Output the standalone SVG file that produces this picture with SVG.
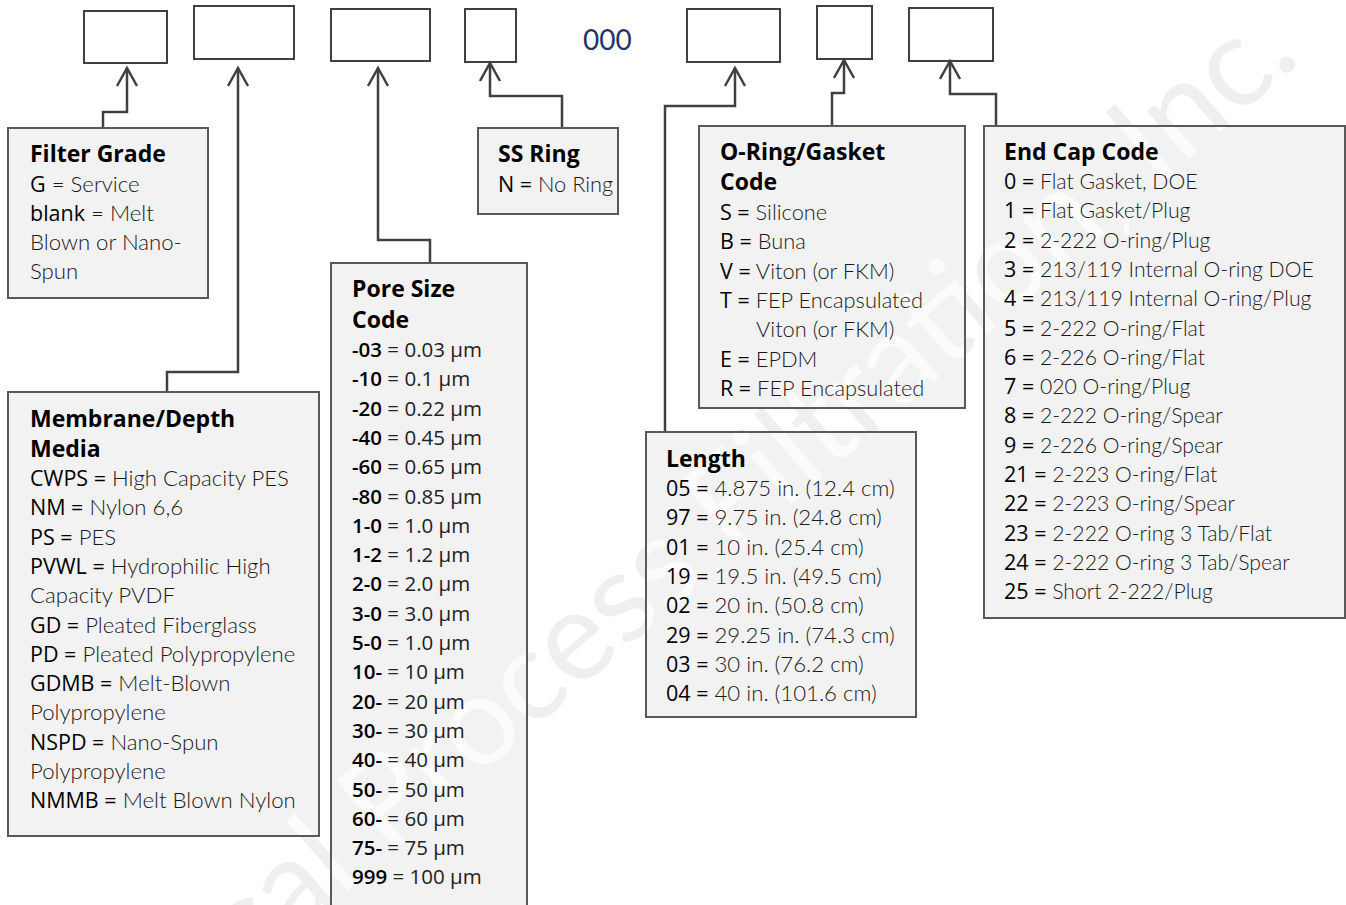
<svg xmlns="http://www.w3.org/2000/svg" width="1346" height="905" viewBox="0 0 1346 905">
<defs>
<style>
.top{fill:#fff;stroke:#404040;stroke-width:2}
.box{fill:url(#boxfill);stroke:#595959;stroke-width:2}
.con{fill:none;stroke:#404040;stroke-width:2.5;marker-start:url(#arr)}
.h{font-family:"Open Sans",sans-serif;font-weight:700;font-size:23px;fill:#000}
.k{font-family:"Open Sans",sans-serif;font-weight:400;font-size:21.5px;fill:#000}
.v{font-family:Lato,sans-serif;font-weight:300;font-size:22.2px;fill:#1a1a1a}
#end-cap .v{font-size:21.2px}
#o-ring .v,#ss-ring .v{font-size:21.8px}
.pk{font-family:"Open Sans",sans-serif;font-weight:600;font-size:20.5px;fill:#000}
.pv{font-family:"Open Sans",sans-serif;font-weight:400;font-size:20.5px;fill:#222}
.wm{font-family:Lato,sans-serif;font-weight:400;font-size:126px}
</style>
<marker id="arr" viewBox="-2 -2 24 24" refX="18" refY="10" markerWidth="24" markerHeight="24" markerUnits="userSpaceOnUse" orient="auto-start-reverse" overflow="visible">
<path d="M0,0 L18,10 L0,20" fill="none" stroke="#404040" stroke-width="2.5"/>
</marker>
<pattern id="boxfill" patternUnits="userSpaceOnUse" x="0" y="0" width="1346" height="905">
<rect width="1346" height="905" fill="#f2f2f2"/>
<text class="wm" fill="#fbfbfb" text-anchor="end" transform="translate(1303,60) rotate(-41)">Critical Process Filtration, Inc.</text>
</pattern>
</defs>
<rect width="1346" height="905" fill="#fff"/>

<g id="watermark">
<text class="wm" fill="#efefef" text-anchor="end" transform="translate(1303,60) rotate(-41)">Critical Process Filtration, Inc.</text>
</g>

<g id="code-slots">
<rect class="top" x="84" y="11" width="83" height="52"/>
<rect class="top" x="194" y="6" width="100" height="53"/>
<rect class="top" x="331" y="9" width="99" height="52"/>
<rect class="top" x="465" y="9" width="51" height="53"/>
<text x="583" y="50" font-family="Lato,sans-serif" font-size="28" fill="#1f3864">000</text>
<rect class="top" x="687" y="9" width="93" height="53"/>
<rect class="top" x="817" y="6" width="55" height="53"/>
<rect class="top" x="909" y="8" width="84" height="53"/>
</g>

<g id="connectors">
<path class="con" d="M127,68 V112 H103 V128"/>
<path class="con" d="M238,68 V372 H167 V392"/>
<path class="con" d="M378,68 V240 H430 V263"/>
<path class="con" d="M490,63 V96 H562 V128"/>
<path class="con" d="M735,68 V106 H665 V432"/>
<path class="con" d="M844,60 V93 H832 V126"/>
<path class="con" d="M950,61 V94 H996 V126"/>
</g>

<g id="filter-grade">
<rect class="box" x="8" y="128" width="200" height="170"/>
<text class="h" x="30" y="162">Filter Grade</text>
<text x="30" y="192"><tspan class="k">G</tspan><tspan class="v"> = Service</tspan></text>
<text x="30" y="221"><tspan class="k">blank</tspan><tspan class="v"> = Melt</tspan></text>
<text class="v" x="30" y="250">Blown or Nano-</text>
<text class="v" x="30" y="279">Spun</text>
</g>

<g id="membrane">
<rect class="box" x="8" y="392" width="311" height="444"/>
<text class="h" x="30" y="427">Membrane/Depth</text>
<text class="h" x="30" y="457">Media</text>
<text x="30" y="486"><tspan class="k">CWPS =</tspan><tspan class="v"> High Capacity PES</tspan></text>
<text x="30" y="515.3"><tspan class="k">NM =</tspan><tspan class="v"> Nylon 6,6</tspan></text>
<text x="30" y="544.6"><tspan class="k">PS =</tspan><tspan class="v"> PES</tspan></text>
<text x="30" y="573.9"><tspan class="k">PVWL =</tspan><tspan class="v"> Hydrophilic High</tspan></text>
<text class="v" x="30" y="603.2">Capacity PVDF</text>
<text x="30" y="632.5"><tspan class="k">GD =</tspan><tspan class="v"> Pleated Fiberglass</tspan></text>
<text x="30" y="661.8"><tspan class="k">PD =</tspan><tspan class="v"> Pleated Polypropylene</tspan></text>
<text x="30" y="691.1"><tspan class="k">GDMB =</tspan><tspan class="v"> Melt-Blown</tspan></text>
<text class="v" x="30" y="720.4">Polypropylene</text>
<text x="30" y="749.7"><tspan class="k">NSPD =</tspan><tspan class="v"> Nano-Spun</tspan></text>
<text class="v" x="30" y="779">Polypropylene</text>
<text x="30" y="808.3"><tspan class="k">NMMB =</tspan><tspan class="v"> Melt Blown Nylon</tspan></text>
</g>

<g id="pore-size">
<rect class="box" x="331" y="263" width="196" height="660"/>
<text class="h" x="352" y="297">Pore Size</text>
<text class="h" x="352" y="328">Code</text>
<text x="352" y="357"><tspan class="pk">-03</tspan><tspan class="pv"> = 0.03 µm</tspan></text>
<text x="352" y="386.3"><tspan class="pk">-10</tspan><tspan class="pv"> = 0.1 µm</tspan></text>
<text x="352" y="415.6"><tspan class="pk">-20</tspan><tspan class="pv"> = 0.22 µm</tspan></text>
<text x="352" y="444.9"><tspan class="pk">-40</tspan><tspan class="pv"> = 0.45 µm</tspan></text>
<text x="352" y="474.2"><tspan class="pk">-60</tspan><tspan class="pv"> = 0.65 µm</tspan></text>
<text x="352" y="503.5"><tspan class="pk">-80</tspan><tspan class="pv"> = 0.85 µm</tspan></text>
<text x="352" y="532.8"><tspan class="pk">1-0</tspan><tspan class="pv"> = 1.0 µm</tspan></text>
<text x="352" y="562.1"><tspan class="pk">1-2</tspan><tspan class="pv"> = 1.2 µm</tspan></text>
<text x="352" y="591.4"><tspan class="pk">2-0</tspan><tspan class="pv"> = 2.0 µm</tspan></text>
<text x="352" y="620.7"><tspan class="pk">3-0</tspan><tspan class="pv"> = 3.0 µm</tspan></text>
<text x="352" y="650"><tspan class="pk">5-0</tspan><tspan class="pv"> = 1.0 µm</tspan></text>
<text x="352" y="679.3"><tspan class="pk">10-</tspan><tspan class="pv"> = 10 µm</tspan></text>
<text x="352" y="708.6"><tspan class="pk">20-</tspan><tspan class="pv"> = 20 µm</tspan></text>
<text x="352" y="737.9"><tspan class="pk">30-</tspan><tspan class="pv"> = 30 µm</tspan></text>
<text x="352" y="767.2"><tspan class="pk">40-</tspan><tspan class="pv"> = 40 µm</tspan></text>
<text x="352" y="796.5"><tspan class="pk">50-</tspan><tspan class="pv"> = 50 µm</tspan></text>
<text x="352" y="825.8"><tspan class="pk">60-</tspan><tspan class="pv"> = 60 µm</tspan></text>
<text x="352" y="855.1"><tspan class="pk">75-</tspan><tspan class="pv"> = 75 µm</tspan></text>
<text x="352" y="884.4"><tspan class="pk">999</tspan><tspan class="pv"> = 100 µm</tspan></text>
</g>

<g id="ss-ring">
<rect class="box" x="478" y="128" width="140" height="86"/>
<text class="h" x="498" y="162">SS Ring</text>
<text x="498" y="192"><tspan class="k">N =</tspan><tspan class="v"> No Ring</tspan></text>
</g>

<g id="o-ring">
<rect class="box" x="699" y="126" width="266" height="282"/>
<text class="h" x="720" y="160">O-Ring/Gasket</text>
<text class="h" x="720" y="190">Code</text>
<text x="720" y="220"><tspan class="k">S =</tspan><tspan class="v"> Silicone</tspan></text>
<text x="720" y="249.3"><tspan class="k">B =</tspan><tspan class="v"> Buna</tspan></text>
<text x="720" y="278.6"><tspan class="k">V =</tspan><tspan class="v"> Viton (or FKM)</tspan></text>
<text x="720" y="307.9"><tspan class="k">T =</tspan><tspan class="v"> FEP Encapsulated</tspan></text>
<text class="v" x="756" y="337.2">Viton (or FKM)</text>
<text x="720" y="366.5"><tspan class="k">E =</tspan><tspan class="v"> EPDM</tspan></text>
<text x="720" y="395.8"><tspan class="k">R =</tspan><tspan class="v"> FEP Encapsulated</tspan></text>
</g>

<g id="length">
<rect class="box" x="646" y="432" width="270" height="285"/>
<text class="h" x="666" y="467">Length</text>
<text x="666" y="496"><tspan class="k">05 =</tspan><tspan class="v"> 4.875 in. (12.4 cm)</tspan></text>
<text x="666" y="525.3"><tspan class="k">97 =</tspan><tspan class="v"> 9.75 in. (24.8 cm)</tspan></text>
<text x="666" y="554.6"><tspan class="k">01 =</tspan><tspan class="v"> 10 in. (25.4 cm)</tspan></text>
<text x="666" y="583.9"><tspan class="k">19 =</tspan><tspan class="v"> 19.5 in. (49.5 cm)</tspan></text>
<text x="666" y="613.2"><tspan class="k">02 =</tspan><tspan class="v"> 20 in. (50.8 cm)</tspan></text>
<text x="666" y="642.5"><tspan class="k">29 =</tspan><tspan class="v"> 29.25 in. (74.3 cm)</tspan></text>
<text x="666" y="671.8"><tspan class="k">03 =</tspan><tspan class="v"> 30 in. (76.2 cm)</tspan></text>
<text x="666" y="701.1"><tspan class="k">04 =</tspan><tspan class="v"> 40 in. (101.6 cm)</tspan></text>
</g>

<g id="end-cap">
<rect class="box" x="984" y="126" width="361" height="492"/>
<text class="h" x="1004" y="160">End Cap Code</text>
<text x="1004" y="189"><tspan class="k">0 =</tspan><tspan class="v"> Flat Gasket, DOE</tspan></text>
<text x="1004" y="218.3"><tspan class="k">1 =</tspan><tspan class="v"> Flat Gasket/Plug</tspan></text>
<text x="1004" y="247.6"><tspan class="k">2 =</tspan><tspan class="v"> 2-222 O-ring/Plug</tspan></text>
<text x="1004" y="276.9"><tspan class="k">3 =</tspan><tspan class="v"> 213/119 Internal O-ring DOE</tspan></text>
<text x="1004" y="306.2"><tspan class="k">4 =</tspan><tspan class="v"> 213/119 Internal O-ring/Plug</tspan></text>
<text x="1004" y="335.5"><tspan class="k">5 =</tspan><tspan class="v"> 2-222 O-ring/Flat</tspan></text>
<text x="1004" y="364.8"><tspan class="k">6 =</tspan><tspan class="v"> 2-226 O-ring/Flat</tspan></text>
<text x="1004" y="394.1"><tspan class="k">7 =</tspan><tspan class="v"> 020 O-ring/Plug</tspan></text>
<text x="1004" y="423.4"><tspan class="k">8 =</tspan><tspan class="v"> 2-222 O-ring/Spear</tspan></text>
<text x="1004" y="452.7"><tspan class="k">9 =</tspan><tspan class="v"> 2-226 O-ring/Spear</tspan></text>
<text x="1004" y="482"><tspan class="k">21 =</tspan><tspan class="v"> 2-223 O-ring/Flat</tspan></text>
<text x="1004" y="511.3"><tspan class="k">22 =</tspan><tspan class="v"> 2-223 O-ring/Spear</tspan></text>
<text x="1004" y="540.6"><tspan class="k">23 =</tspan><tspan class="v"> 2-222 O-ring 3 Tab/Flat</tspan></text>
<text x="1004" y="569.9"><tspan class="k">24 =</tspan><tspan class="v"> 2-222 O-ring 3 Tab/Spear</tspan></text>
<text x="1004" y="599.2"><tspan class="k">25 =</tspan><tspan class="v"> Short 2-222/Plug</tspan></text>
</g>
</svg>
